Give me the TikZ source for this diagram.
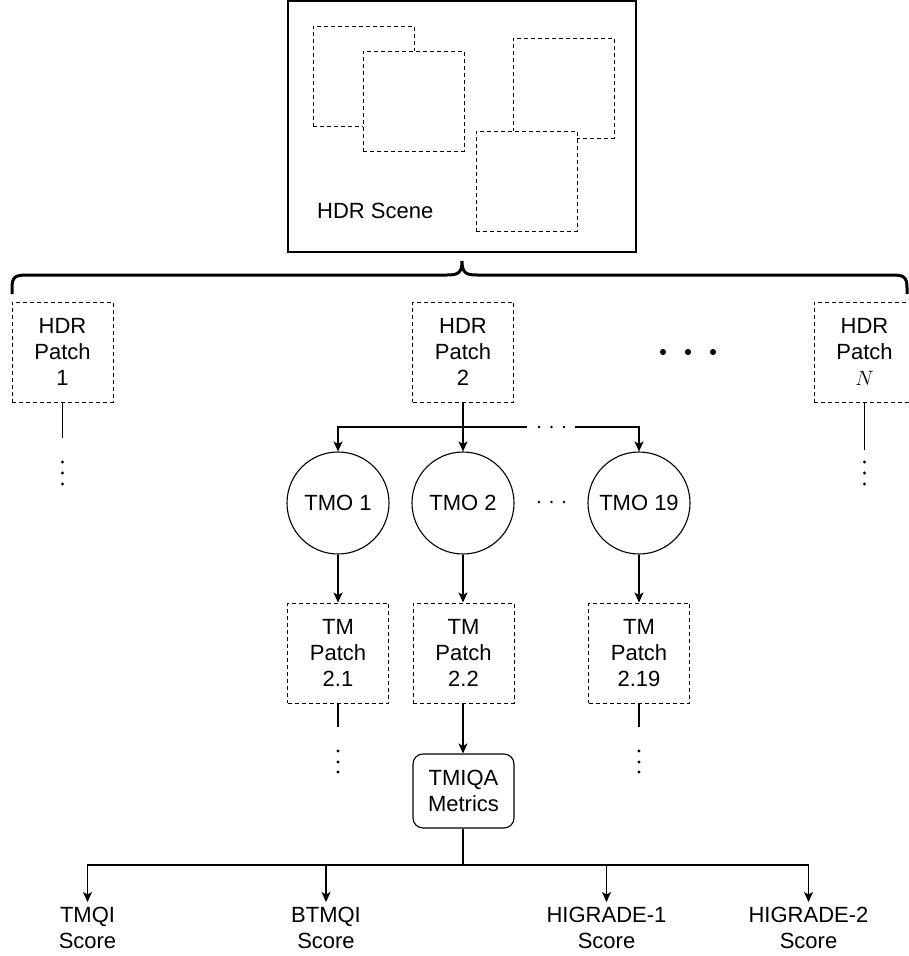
\documentclass[tikz,border=0pt]{standalone}
\usepackage{fontspec}
\setmainfont{Liberation Sans}
\usetikzlibrary{arrows.meta}

\begin{document}
\begin{tikzpicture}[x=1pt,y=-1pt,
  every node/.style={font=\fontsize{22}{26}\selectfont, align=center, inner sep=0pt, text=black},
  patchbox/.style={draw, dash pattern=on 4pt off 3pt, line width=1pt, minimum width=101pt, minimum height=100pt},
  regionbox/.style={draw, fill=white, dash pattern=on 4pt off 3pt, line width=1pt, minimum width=101pt, minimum height=100pt},
  tmo/.style={draw, circle, line width=1.1pt, minimum size=102pt},
  conn/.style={line width=1.2pt},
  arr/.style={conn, -{Stealth[length=10pt,width=9pt,inset=2.5pt]}},
  score/.style={anchor=north, inner xsep=0pt, inner ysep=5pt}
]
\useasboundingbox (0,0) rectangle (909,956);

% ---- scene with its sampled regions ----
\node[draw, line width=1.5pt, minimum width=348pt, minimum height=251pt] (scene) at (462,126.5) {};
\node[regionbox] (ra) at (363.5,76) {};
\node[regionbox] (rb) at (413.5,101) {};
\node[regionbox] (rc) at (563.5,88) {};
\node[regionbox] (rd) at (526.5,181) {};
\node[anchor=base west] (scenelabel) at (317,218) {HDR Scene};

% ---- brace splitting the scene into patches ----
\draw[line width=3pt] (12,294) -- (12,288) .. controls (12,277) and (15,275) .. (27,275)
  -- (447,275) .. controls (458,275) and (462,273) .. (462,261)
  .. controls (462,273) and (466,275) .. (477,275)
  -- (892,275) .. controls (904,275) and (907,277) .. (907,288) -- (907,294);

% ---- HDR patches ----
\node[patchbox] (p1) at (62.5,352) {HDR\\Patch\\1};
\node[patchbox] (p2) at (463,352) {HDR\\Patch\\2};
\node[patchbox] (pN) at (864.5,352) {HDR\\Patch\\$N$};

\foreach \x in {663,688,713} \fill (\x,352) circle[radius=3.1pt];

% continuation of patch 1 and patch N
\coordinate (c1) at (62.5,438);
\coordinate (cN) at (864.5,450);
\draw[conn] (p1.south) -- (c1);
\draw[conn] (pN.south) -- (cN);
\foreach \x in {62.5,864.5} \foreach \y in {462,473,484} \fill (\x,\y) circle[radius=1.7pt];

% ---- tone mapping operators ----
\node[tmo] (t1) at (338,503) {TMO 1};
\node[tmo] (t2) at (463,503) {TMO 2};
\node[tmo] (t19) at (639,503) {TMO 19};

\coordinate (hb) at (463,427);
\coordinate (gl) at (527,427);
\coordinate (gr) at (575,427);
\draw[arr] (p2.south) -- (t2.north);
\draw[arr] (hb) -| (t1.north);
\draw[conn] (hb) -- (gl);
\draw[arr] (gr) -| (t19.north);
\foreach \x in {539,551.5,564} {
  \fill (\x,427) circle[radius=1.4pt];
  \fill (\x,502) circle[radius=1.4pt];
}

% ---- tone-mapped patches ----
\node[patchbox] (m1) at (338,653) {TM\\Patch\\2.1};
\node[patchbox] (m2) at (463.5,653) {TM\\Patch\\2.2};
\node[patchbox] (m19) at (639,653) {TM\\Patch\\2.19};

\draw[arr] (t1.south) -- (m1.north);
\draw[arr] (t2.south) -- (m2.north -| t2.south);
\draw[arr] (t19.south) -- (m19.north);

\coordinate (d1) at (338,727);
\coordinate (d19) at (639,727);
\draw[conn] (m1.south) -- (d1);
\draw[conn] (m19.south) -- (d19);
\foreach \x in {338,639} \foreach \y in {751,762,772} \fill (\x,\y) circle[radius=1.7pt];

% ---- quality metrics ----
\node[draw, rounded corners=10pt, line width=1.1pt, minimum width=101pt, minimum height=74pt] (q) at (463.5,791) {TMIQA\\Metrics};
\draw[arr] (m2.south -| t2.south) -- (q.north -| t2.south);

\node[score] (s1) at (87.5,902) {TMQI\\Score};
\node[score] (s2) at (326,902) {BTMQI\\Score};
\node[score] (s3) at (606.5,902) {HIGRADE-1\\Score};
\node[score] (s4) at (808.5,902) {HIGRADE-2\\Score};

\coordinate (bus) at (463,865);
\draw[conn] (q.south -| bus) -- (bus);
\foreach \s in {s1,s2,s3,s4} \draw[arr] (bus) -| (\s.north);
\end{tikzpicture}
\end{document}
